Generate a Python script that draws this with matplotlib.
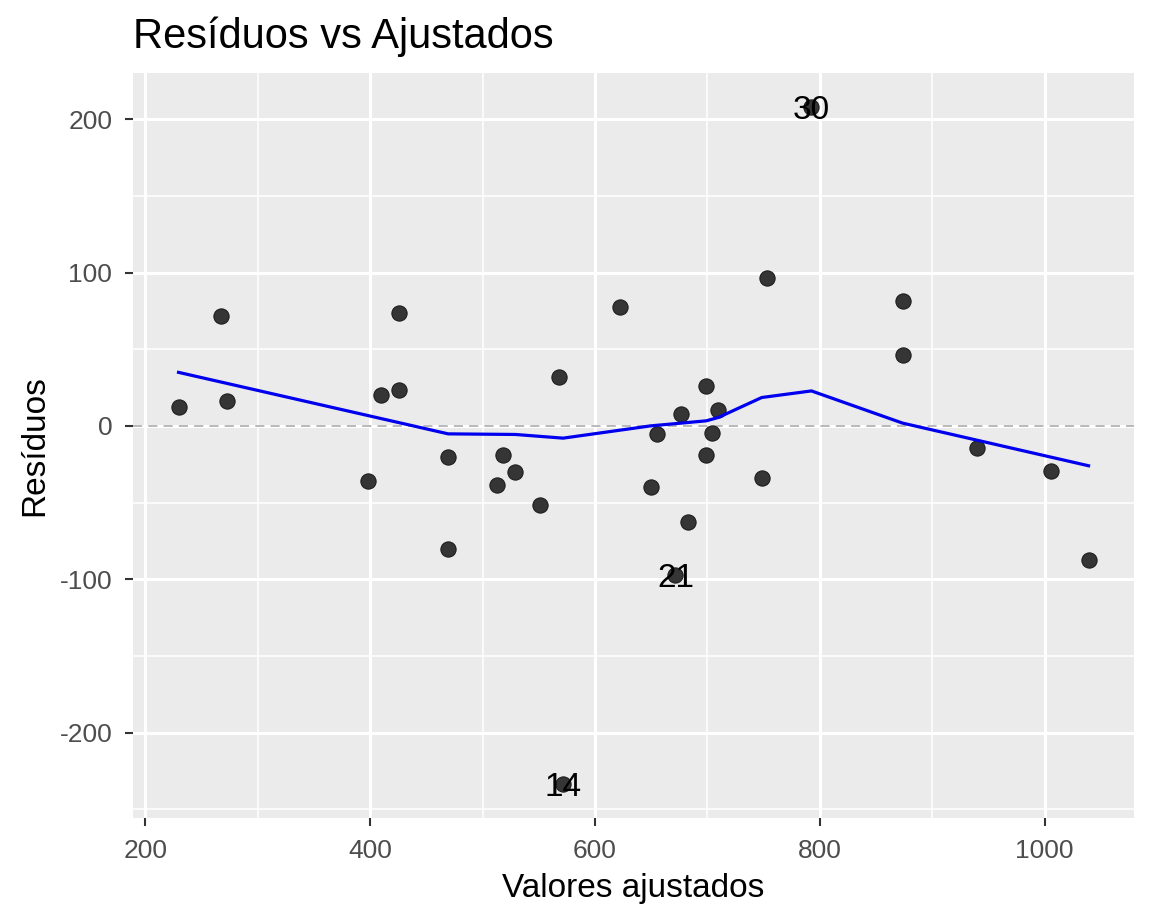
import matplotlib.pyplot as plt
from matplotlib.ticker import MultipleLocator, AutoMinorLocator

plt.rcParams['font.family'] = ['Liberation Sans', 'DejaVu Sans']
plt.rcParams['axes.unicode_minus'] = False

# fitted values and residuals
fitted = [229.6, 267.3, 272.9, 398.2, 409.5, 425.7, 425.7, 469.4, 469.4, 512.7,
          518.3, 529.2, 551.1, 567.6, 571.7, 621.9, 649.5, 655.3, 671.6, 676.7,
          682.6, 699.1, 699.1, 704.3, 709.8, 748.4, 753.4, 792.6, 873.7, 873.7,
          940.2, 1006.0, 1039.1]
resid = [12.0, 71.8, 16.3, -36.2, 20.0, 73.5, 23.4, -20.0, -80.2, -38.8,
         -19.1, -30.1, -51.8, 31.7, -233.6, 77.2, -40.1, -5.2, -97.2, 7.8,
         -62.9, 26.0, -18.9, -4.7, 10.4, -34.3, 96.1, 208.0, 81.3, 46.2,
         -14.3, -29.7, -87.6]

# smoother
smooth_x = [229.6, 469.4, 529.2, 571.7, 649.5, 699.1, 709.8, 748.4, 792.6, 873.7, 1039.1]
smooth_y = [34.9, -5.2, -5.6, -8.0, 0.0, 3.3, 5.5, 18.5, 22.8, 1.8, -26.0]

# labelled observations
lab_ids = ['30', '21', '14']
lab_x = [792.6, 671.6, 571.7]
lab_y = [208.0, -97.2, -233.6]

fig = plt.figure(figsize=(11.52, 9.22), dpi=100)
ax = fig.add_axes([0.1155, 0.1128, 0.8689, 0.808])
ax.set_facecolor('#EBEBEB')
for s in ax.spines.values():
    s.set_visible(False)

ax.axhline(0, color='#A6A6A6', lw=1.1, ls=(0, (6, 4)), zorder=1)
ax.scatter(fitted, resid, s=120, color='#353535', edgecolor='#1e1e1e', lw=0.8, zorder=3)
ax.plot(smooth_x, smooth_y, color='#0000EE', lw=2.3, zorder=4)
for t, x, y in zip(lab_ids, lab_x, lab_y):
    ax.text(x, y, t, fontsize=24, ha='center', va='center_baseline', color='black', zorder=5)

ax.margins(0.05)
ax.xaxis.set_major_locator(MultipleLocator(200))
ax.xaxis.set_minor_locator(AutoMinorLocator(2))
ax.yaxis.set_major_locator(MultipleLocator(100))
ax.yaxis.set_minor_locator(AutoMinorLocator(2))
ax.grid(which='major', color='white', lw=2.2)
ax.grid(which='minor', color='white', lw=1.1)
ax.set_axisbelow(True)

ax.tick_params(which='major', length=6, width=1.5, color='#333333',
               labelsize=19, labelcolor='#4D4D4D', pad=9)
ax.tick_params(which='minor', length=0)

ax.set_xlabel('Valores ajustados', fontsize=24, labelpad=7)
ax.set_ylabel('Resíduos', fontsize=24, labelpad=7)
ax.set_title('Resíduos vs Ajustados', fontsize=30, loc='left', pad=18)

plt.savefig('out.png')
